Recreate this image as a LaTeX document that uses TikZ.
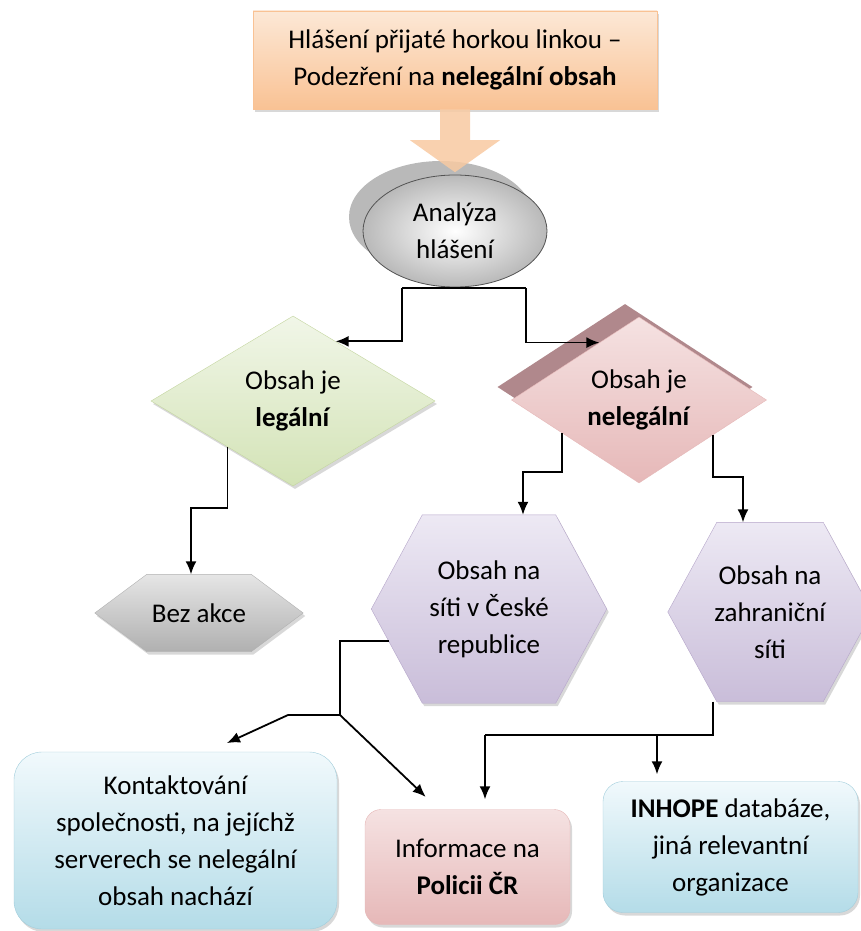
\documentclass[tikz,border=0pt]{standalone}
\usepackage{fontspec}
\setmainfont{Carlito}
\usetikzlibrary{positioning,shapes.geometric,shadows,calc,arrows.meta}

\pgfdeclarelayer{background}
\pgfsetlayers{background,main}

\definecolor{peachtop}{RGB}{252,232,214}
\definecolor{peachbot}{RGB}{249,194,148}
\definecolor{arrowpeach}{RGB}{248,202,162}
\definecolor{greentop}{RGB}{241,246,232}
\definecolor{greenbot}{RGB}{211,227,182}
\definecolor{greenline}{RGB}{196,214,160}
\definecolor{pinktop}{RGB}{245,226,226}
\definecolor{pinkbot}{RGB}{230,184,184}
\definecolor{pinkdark}{RGB}{176,136,140}
\definecolor{lavlight}{RGB}{237,233,244}
\definecolor{lavdark}{RGB}{201,189,217}
\definecolor{lavline}{RGB}{182,166,202}
\definecolor{bluetop}{RGB}{241,249,252}
\definecolor{bluebot}{RGB}{180,220,232}
\definecolor{blueline}{RGB}{162,206,220}

\begin{document}
\begin{tikzpicture}[x=1pt,y=-1pt,on grid,>={Latex[length=13pt,width=11pt]},
    every node/.style={font=\fontsize{27}{37}\selectfont,align=center,inner sep=0pt},
    shade box/.style={drop shadow={shadow xshift=2pt,shadow yshift=-3pt,opacity=.3}},
    hlbox/.style={rectangle,minimum width=404pt,minimum height=98pt,
        top color=peachtop,bottom color=peachbot,draw=peachbot,shade box},
    analysis/.style={ellipse,minimum width=184pt,minimum height=112pt,
        inner color=white,outer color=gray!55,draw=gray!65!black,line width=.8pt,
        copy shadow={shadow xshift=-14pt,shadow yshift=14pt,fill=gray!55,draw=none}},
    legalbox/.style={diamond,aspect=1.7,minimum width=284pt,minimum height=170pt,
        top color=greentop,bottom color=greenbot,draw=greenline,shade box},
    illegalbox/.style={diamond,aspect=1.7,minimum width=255pt,minimum height=166pt,
        top color=pinktop,bottom color=pinkbot,draw=pinkbot,
        copy shadow={shadow xshift=-14pt,shadow yshift=13pt,fill=pinkdark,draw=none}},
    hexslot/.style 2 args={rectangle,minimum width=#1,minimum height=#2},
    greyhex/.style={top color=gray!20,bottom color=gray!62,draw=gray!60,shade box},
    lavhex/.style={top color=lavlight,bottom color=lavdark,draw=lavline,shade box},
    bluebox/.style={rectangle,top color=bluetop,bottom color=bluebot,draw=blueline,shade box},
    pinkbox/.style={rectangle,rounded corners=16pt,minimum width=205pt,minimum height=115pt,
        top color=pinktop,bottom color=pinkbot,draw=pinkbot,shade box},
    link/.style={draw,line width=1.8pt}]

    \useasboundingbox (0,0) rectangle (860,931);
    \begin{pgfonlayer}{background}
        \fill[white] (0,0) rectangle (860,931);
    \end{pgfonlayer}

    \node[hlbox] (hlaseni) at (455,60) {Hlášení přijaté horkou linkou –\\Podezření na \textbf{nelegální obsah}};
    \node[analysis] (analyza) [below=171pt of hlaseni] {Analýza\\hlášení};
    \node[legalbox] (legalni) [below left=170pt and 162pt of analyza] {Obsah je\\\textbf{legální}};
    \node[illegalbox] (nelegalni) [below right=169pt and 184pt of analyza] {Obsah je\\\textbf{nelegální}};
    \node[hexslot={208pt}{77pt}] (bezakce) [below left=212pt and 94pt of legalni] {Bez akce};
    \node[hexslot={235pt}{188pt}] (cesko) [below left=209pt and 150pt of nelegalni] {Obsah na\\síti v České\\republice};
    \node[hexslot={204pt}{179pt}] (zahranici) [below right=212pt and 131pt of nelegalni] {Obsah na\\zahraniční\\síti};
    \node[bluebox,minimum width=323pt,minimum height=177pt,rounded corners=28pt]
        (kontakt) [below left=231.5pt and 313.5pt of cesko] {Kontaktování\\společnosti, na jejíchž\\serverech se nelegální\\obsah nachází};
    \node[pinkbox] (policie) [below left=258pt and 21.5pt of cesko] {Informace na\\\textbf{Policii ČR}};
    \node[bluebox,minimum width=255pt,minimum height=131pt,rounded corners=20pt]
        (inhope) [below left=235pt and 39.5pt of zahranici] {\textbf{INHOPE} databáze,\\jiná relevantní\\organizace};

    % hexagons behind the texts
    \begin{pgfonlayer}{background}
        \foreach \h/\s/\look in {bezakce/52/greyhex,cesko/51/lavhex,zahranici/49/lavhex}
            \path[\look] (\h.west) -- ($(\h.north west)+(\s,0)$) -- ($(\h.north east)+(-\s,0)$)
                -- (\h.east) -- ($(\h.south east)+(-\s,0)$) -- ($(\h.south west)+(\s,0)$) -- cycle;
    \end{pgfonlayer}

    % block arrow into the analysis
    \fill[arrowpeach,opacity=.85] ($(hlaseni.south)+(-15,0)$) -- ++(0,31) -- ++(-30,0)
        -- ++(45,32) -- ++(45,-32) -- ++(-30,0) -- ++(0,-31) -- cycle;

    % bends
    \coordinate (a_l) at (402,288);
    \coordinate (a_r) at (526,288);
    \coordinate (k1) at (191,508);
    \coordinate (k2) at (523,472);
    \coordinate (k3) at (743,477);
    \coordinate (j1) at (340,715);
    \coordinate (j2) at (288,715);
    \coordinate (j3) at (485,735);
    \coordinate (j4) at (657,735);

    \draw[link] (a_l) -- (a_r);
    \draw[link,->] (a_l) |- ($(legalni.north)!.3!(legalni.east)$);
    \draw[link,->] (a_r) |- ($(nelegalni.north)!.31!(nelegalni.west)$);
    \draw[link,->] ($(legalni.south)!.46!(legalni.west)$) |- (k1) -- (k1 |- bezakce.north);
    \draw[link,->] ($(nelegalni.south)!.6!(nelegalni.west)$) |- (k2) -- (k2 |- cesko.north);
    \draw[link,->] ($(nelegalni.south)!.58!(nelegalni.east)$) |- (k3) -- (k3 |- zahranici.north);
    \draw[link] ($(cesko.west)+(18,32)$) -| (j1) -- (j2);
    \draw[link,->,shorten >=21pt] (j2) -- ($(kontakt.north east)!.4!(kontakt.north west)$);
    \draw[link,->,shorten >=18pt] (j1) -- ($(policie.north west)!.36!(policie.north east)$);
    \draw[link] ($(zahranici.south)+(-57,0)$) |- (j3);
    \draw[link,->,shorten >=10pt] (j3) -- (j3 |- policie.north);
    \draw[link,->,shorten >=7pt] (j4) -- (j4 |- inhope.north);
\end{tikzpicture}
\end{document}
